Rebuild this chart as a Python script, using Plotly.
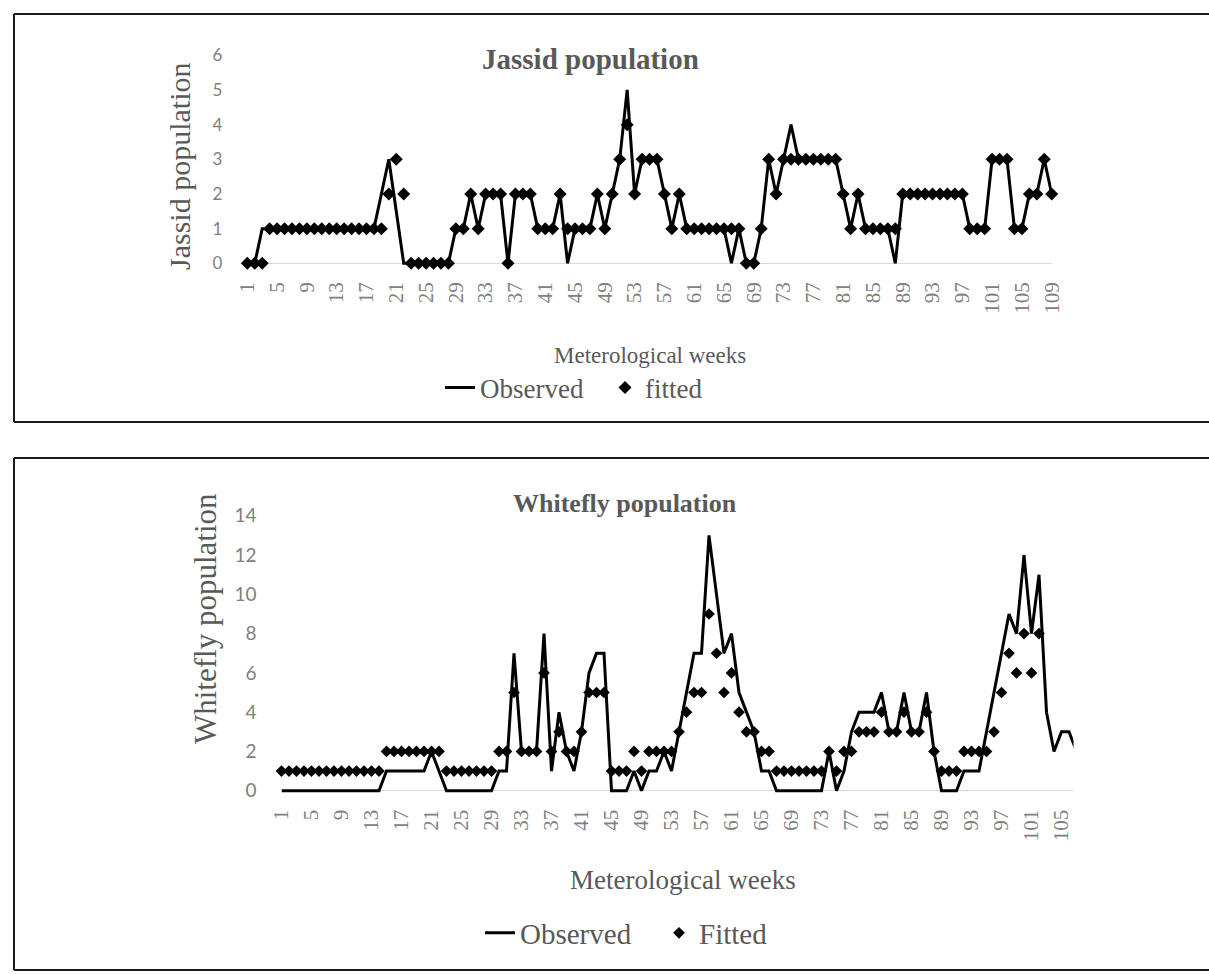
import plotly.graph_objects as go

W, H = 1209, 974

# ---------------- data ----------------
jassid_weeks = list(range(1, 110))
jassid_observed = [0, 0, 1, 1, 1, 1, 1, 1, 1, 1, 1, 1, 1, 1, 1, 1, 1, 1, 2, 3, 1.5, 0, 0, 0, 0, 0, 0, 0,
                   1, 1, 2, 1, 2, 2, 2, 0, 2, 2, 2, 1, 1, 1, 2, 0, 1, 1, 1, 2, 1, 2, 3, 5, 2, 3, 3, 3, 2, 1, 2, 1,
                   1, 1, 1, 1, 1, 0, 1, 0, 0, 1, 3, 2, 3, 4,
                   3, 3, 3, 3, 3, 3, 2, 1, 2, 1, 1, 1, 1, 0,
                   2, 2, 2, 2, 2, 2, 2, 2, 2, 1, 1, 1, 3, 3, 3, 1, 1, 2, 2, 3, 2]
jassid_fitted = [0, 0, 0, 1, 1, 1, 1, 1, 1, 1, 1, 1, 1, 1, 1, 1, 1, 1, 1, 2, 3, 2, 0, 0, 0, 0, 0, 0,
                 1, 1, 2, 1, 2, 2, 2, 0, 2, 2, 2, 1, 1, 1, 2, 1, 1, 1, 1, 2, 1, 2, 3, 4, 2, 3, 3, 3, 2, 1, 2, 1,
                 1, 1, 1, 1, 1, 1, 1, 0, 0, 1, 3, 2, 3, 3,
                 3, 3, 3, 3, 3, 3, 2, 1, 2, 1, 1, 1, 1, 1,
                 2, 2, 2, 2, 2, 2, 2, 2, 2, 1, 1, 1, 3, 3, 3, 1, 1, 2, 2, 3, 2]
jassid_ticks = list(range(1, 110, 4))

whitefly_weeks = list(range(1, 108))
whitefly_observed = [0, 0, 0, 0, 0, 0, 0, 0, 0, 0, 0, 0, 0, 0, 1, 1, 1, 1, 1, 1, 2, 1, 0, 0, 0, 0, 0, 0, 0,
                     1, 1, 7, 2, 2, 2, 8, 1, 4, 2, 1, 3, 6, 7, 7,
                     0, 0, 0, 1, 0, 1, 1, 2, 1, 3, 5, 7, 7,
                     13, 10, 7, 8, 5, 4, 3, 1, 1,
                     0, 0, 0, 0, 0, 0, 0,
                     2, 0, 1, 3, 4, 4, 4, 5, 3, 3, 5, 3, 3, 5, 2,
                     0, 0, 0, 1, 1, 1, 3, 5, 7, 9, 8, 12, 8, 11, 4, 2, 3, 3, 2]
whitefly_fitted_weeks = list(range(1, 103))
whitefly_fitted = [1, 1, 1, 1, 1, 1, 1, 1, 1, 1, 1, 1, 1, 1, 2, 2, 2, 2, 2, 2, 2, 2, 1, 1, 1, 1, 1, 1, 1,
                   2, 2, 5, 2, 2, 2, 6, 2, 3, 2, 2, 3, 5, 5, 5,
                   1, 1, 1, 2, 1, 2, 2, 2, 2, 3, 4, 5, 5,
                   9, 7, 5, 6, 4, 3, 3, 2, 2,
                   1, 1, 1, 1, 1, 1, 1,
                   2, 1, 2, 2, 3, 3, 3, 4, 3, 3, 4, 3, 3, 4, 2,
                   1, 1, 1, 2, 2, 2, 2, 3, 5, 7, 6, 8, 6, 8]
whitefly_ticks = list(range(1, 106, 4))

# ---------------- layout helpers (pixel geometry) ----------------
def xdom(p_a, p_b, a, b, rng):
    s = (p_b - p_a) / (b - a)
    return [(p_a + (rng[0] - a) * s) / W, (p_a + (rng[1] - a) * s) / W]

def ydom(p_a, p_b, a, b, rng):
    s = (p_b - p_a) / (b - a)
    return [1 - (p_a + (rng[0] - a) * s) / H, 1 - (p_a + (rng[1] - a) * s) / H]

def fx(p):
    return p / W

def fy(p):
    return 1 - p / H

GRAY = '#808080'
DGRAY = '#595959'
SERIF = 'Liberation Serif'

x1_rng = [1, 109]
y1_rng = [-0.08, 6]
x2_rng = [1, 106.6]
y2_rng = [-0.2, 14]

fig = go.Figure()
fig.add_trace(go.Scatter(x=jassid_weeks, y=jassid_observed, mode='lines', name='Observed',
                         line=dict(color='black', width=3), xaxis='x', yaxis='y', legend='legend'))
fig.add_trace(go.Scatter(x=jassid_weeks, y=jassid_fitted, mode='markers', name='fitted',
                         marker=dict(symbol='diamond', size=10, color='black'), cliponaxis=False,
                         xaxis='x', yaxis='y', legend='legend'))
fig.add_trace(go.Scatter(x=whitefly_weeks, y=whitefly_observed, mode='lines', name='Observed',
                         line=dict(color='black', width=3), xaxis='x2', yaxis='y2', legend='legend2'))
fig.add_trace(go.Scatter(x=whitefly_fitted_weeks, y=whitefly_fitted, mode='markers', name='Fitted',
                         marker=dict(symbol='diamond', size=9, color='black'), cliponaxis=False,
                         xaxis='x2', yaxis='y2', legend='legend2'))

xtick_font = dict(family=SERIF, size=21, color=GRAY)

common_x = dict(showgrid=False, zeroline=False, showline=False, ticks='', tickangle=-90,
                tickfont=xtick_font, automargin=False, fixedrange=True)
common_y = dict(showgrid=False, showline=False, ticks='', zeroline=True, zerolinecolor='#d9d9d9',
                zerolinewidth=1, ticklabelstandoff=24, automargin=False, fixedrange=True)

fig.update_layout(
    width=W, height=H, autosize=False,
    margin=dict(l=0, r=0, t=0, b=0, pad=0, autoexpand=False),
    paper_bgcolor='white', plot_bgcolor='white',
    xaxis=dict(domain=xdom(247.3, 1051.7, 1, 109, x1_rng), range=x1_rng, anchor='y',
               tickvals=jassid_ticks, ticktext=[str(t) for t in jassid_ticks],
               ticklabelstandoff=11, **common_x),
    yaxis=dict(domain=ydom(263.3, 55.3, 0, 6, y1_rng), range=y1_rng, anchor='x',
               tickvals=list(range(0, 7)), tickfont=dict(family='Lato', size=17, color=GRAY), **common_y),
    xaxis2=dict(domain=xdom(281.5, 1061.5, 1, 105, x2_rng), range=x2_rng, anchor='y2',
                tickvals=whitefly_ticks, ticktext=[str(t) for t in whitefly_ticks],
                ticklabelstandoff=10, **common_x),
    yaxis2=dict(domain=ydom(790.7, 515.8, 0, 14, y2_rng), range=y2_rng, anchor='x2',
                tickvals=list(range(0, 15, 2)), tickfont=dict(family='Lato', size=19, color=GRAY), **common_y),
    legend=dict(orientation='h', x=fx(440), y=fy(388), xanchor='left', yanchor='middle',
                entrywidth=120, entrywidthmode='pixels',
                font=dict(family=SERIF, size=27, color=DGRAY), bgcolor='rgba(0,0,0,0)'),
    legend2=dict(orientation='h', x=fx(480), y=fy(933), xanchor='left', yanchor='middle',
                 entrywidth=134, entrywidthmode='pixels',
                 font=dict(family=SERIF, size=29, color=DGRAY), bgcolor='rgba(0,0,0,0)'),
    showlegend=True,
)

annotations = [
    dict(text='<b>Jassid population</b>', x=fx(590), y=fy(59), font=dict(family=SERIF, size=29, color=DGRAY)),
    dict(text='<b>Whitefly population</b>', x=fx(625), y=fy(503), font=dict(family=SERIF, size=26, color=DGRAY)),
    dict(text='Jassid population', x=fx(179), y=fy(166), textangle=-90,
         font=dict(family=SERIF, size=30, color=DGRAY)),
    dict(text='Whitefly population', x=fx(205), y=fy(619), textangle=-90,
         font=dict(family=SERIF, size=31, color=DGRAY)),
    dict(text='Meterological weeks', x=fx(650), y=fy(355), font=dict(family=SERIF, size=23, color=DGRAY)),
    dict(text='Meterological weeks', x=fx(683), y=fy(880), font=dict(family=SERIF, size=27, color=DGRAY)),
]
for a in annotations:
    a.update(xref='paper', yref='paper', showarrow=False, xanchor='center', yanchor='middle')
fig.update_layout(annotations=annotations)

box = dict(color='#1a1a1a', width=2)
shapes = []
for top, bottom in [(14, 422), (458, 970)]:
    shapes.append(dict(type='line', xref='paper', yref='paper', x0=fx(14), x1=1, y0=fy(top), y1=fy(top), line=box))
    shapes.append(dict(type='line', xref='paper', yref='paper', x0=fx(14), x1=1, y0=fy(bottom), y1=fy(bottom), line=box))
    shapes.append(dict(type='line', xref='paper', yref='paper', x0=fx(14), x1=fx(14), y0=fy(top), y1=fy(bottom), line=box))
fig.update_layout(shapes=shapes)

fig.write_html('out.html', config=dict(displayModeBar=False),
               post_script="document.body.style.margin='0';document.body.style.overflow='hidden';")
